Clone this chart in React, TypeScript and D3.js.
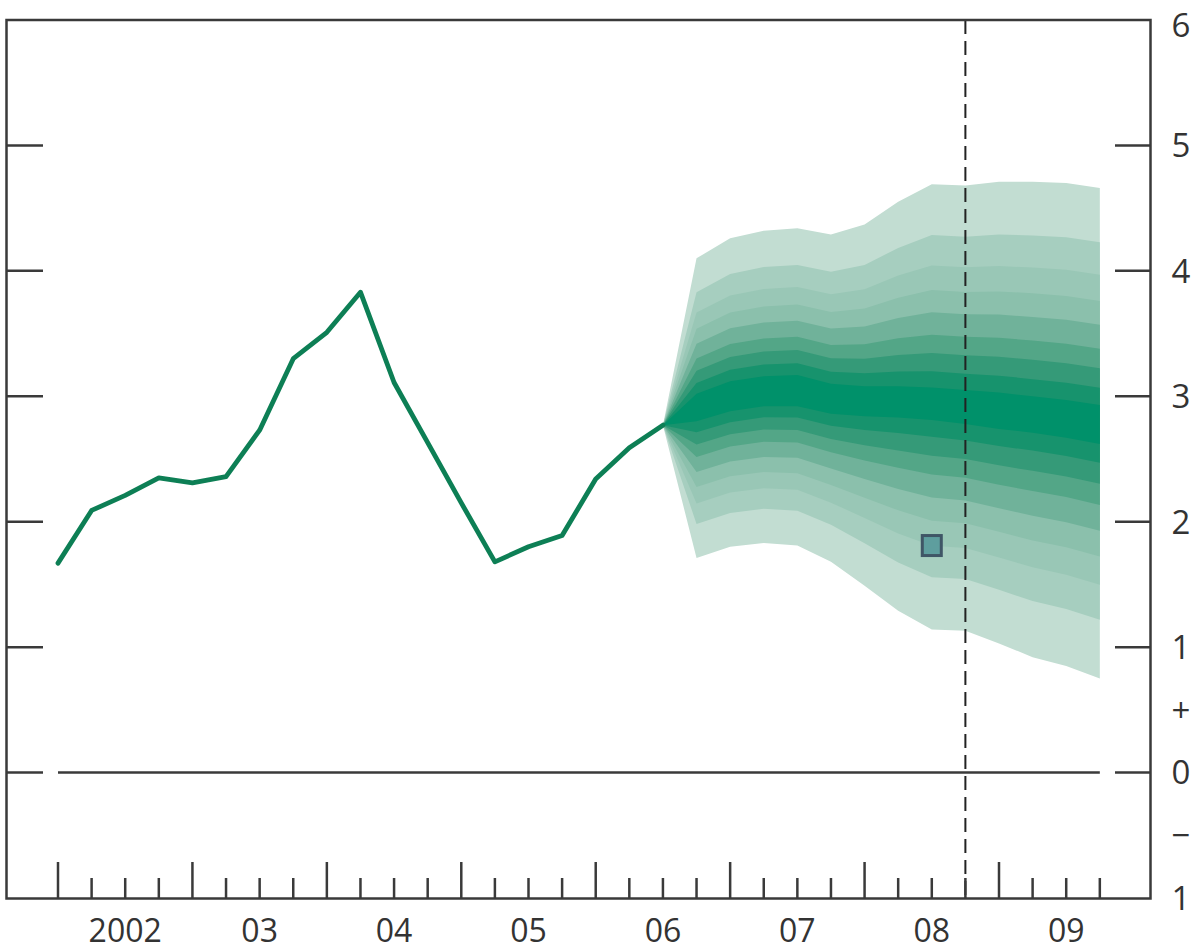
import React from 'react';
import * as d3 from 'd3';

// ---------- data ----------
const yearLabels = ['2002', '03', '04', '05', '06', '07', '08', '09'];
const firstYear = 2002;
const quarterCount = 32; // 2002 Q1 .. 2009 Q4 tick marks

// historical CPI inflation (quarterly, from 2002 Q1)
const histValues = [1.67, 2.09, 2.21, 2.35, 2.31, 2.36, 2.73, 3.30, 3.51, 3.83, 3.11, 2.63, 2.15, 1.68, 1.80, 1.89, 2.34, 2.59, 2.77];

// projection fan (quarterly, from 2006 Q3)
const fanStartQuarter = 18;
const fanOuterUpper = [2.77, 4.10, 4.26, 4.32, 4.34, 4.29, 4.37, 4.55, 4.69, 4.68, 4.71, 4.71, 4.70, 4.66];
const fanOuterLower = [2.77, 1.71, 1.80, 1.83, 1.81, 1.68, 1.49, 1.29, 1.14, 1.13, 1.03, 0.92, 0.85, 0.75];
const fanCentreUpper = [2.77, 3.02, 3.12, 3.16, 3.17, 3.10, 3.08, 3.08, 3.07, 3.05, 3.03, 3.00, 2.97, 2.93];
const fanCentreLower = [2.77, 2.80, 2.88, 2.92, 2.92, 2.86, 2.84, 2.83, 2.81, 2.78, 2.74, 2.71, 2.67, 2.62];
// relative position of each band edge between the central band and the outer edge
const bandEdges = [0.08, 0.17, 0.26, 0.37, 0.48, 0.60, 0.75, 1.0];
// colours: central band first, then outward
const bandColours = ['#00916a', '#17936d', '#359a78', '#53a687', '#70b29a', '#8bc0ac', '#99c7b6', '#a6cebf', '#c2ddd2'];

// marker (square)
const markerTime = 2008.5;
const markerValue = 1.81;
// dashed vertical line (two years ahead)
const dashedTime = 2008.75;

const yTickValues = [0, 1, 2, 3, 4, 5];
const rightLabels = ['6', '5', '4', '3', '2', '1', '+', '0', '\u2212', '1'];
const rightLabelValues = [6, 5, 4, 3, 2, 1, 0.5, 0, -0.5, -1];

// ---------- layout ----------
const W = 1197;
const H = 952;
const frame = { left: 6.5, right: 1150.5, top: 20, bottom: 898.5 };

export default function App() {
  const x = d3.scaleLinear().domain([2002, 2009]).range([58, 999]);
  const y = d3.scaleLinear().domain([-1, 6]).range([898, 20]);
  const tq = (k: number) => firstYear + k / 4;

  const histLine = d3
    .line<number>()
    .x((_, i) => x(tq(i)))
    .y((d) => y(d))(histValues) as string;

  const fanIdx = fanOuterUpper.map((_, i) => i);
  const bands = bandEdges
    .map((f, bi) => {
      const area = d3
        .area<number>()
        .x((i) => x(tq(fanStartQuarter + i)))
        .y0((i) => y(fanCentreLower[i] - f * (fanCentreLower[i] - fanOuterLower[i])))
        .y1((i) => y(fanCentreUpper[i] + f * (fanOuterUpper[i] - fanCentreUpper[i])))(fanIdx) as string;
      return { d: area, colour: bandColours[bi + 1] };
    })
    .reverse();
  const centre = d3
    .area<number>()
    .x((i) => x(tq(fanStartQuarter + i)))
    .y0((i) => y(fanCentreLower[i]))
    .y1((i) => y(fanCentreUpper[i]))(fanIdx) as string;

  const quarterTicks = d3.range(quarterCount);
  const font = '"Open Sans", "Noto Sans", sans-serif';
  const ink = '#3a3a3a';

  return (
    <svg
      width={W}
      height={H}
      style={{ position: 'absolute', left: 0, top: 0, display: 'block', background: '#fff' }}
    >
      {/* fan */}
      {bands.map((b, i) => (
        <path key={i} d={b.d} fill={b.colour} stroke="none" />
      ))}
      <path d={centre} fill={bandColours[0]} stroke="none" />

      {/* zero line */}
      <line x1={x(tq(0))} x2={x(tq(quarterCount - 1))} y1={y(0)} y2={y(0)} stroke={ink} strokeWidth={2.5} />

      {/* historical line */}
      <path d={histLine} fill="none" stroke="#0d7f55" strokeWidth={4.8} strokeLinejoin="round" strokeLinecap="round" />

      {/* marker */}
      <rect
        x={x(markerTime) - 9.5}
        y={y(markerValue) - 10}
        width={19}
        height={20}
        fill="#5e9e9e"
        stroke="#3f5666"
        strokeWidth={3}
      />

      {/* dashed line */}
      <line
        x1={x(dashedTime)}
        x2={x(dashedTime)}
        y1={frame.top}
        y2={frame.bottom}
        stroke="#222"
        strokeWidth={2}
        strokeDasharray="14,7"
      />

      {/* y ticks inside frame */}
      {yTickValues.map((v) => (
        <g key={v}>
          <line x1={frame.left} x2={43} y1={y(v)} y2={y(v)} stroke={ink} strokeWidth={2.5} />
          <line x1={1115} x2={frame.right} y1={y(v)} y2={y(v)} stroke={ink} strokeWidth={2.5} />
        </g>
      ))}

      {/* x ticks */}
      {quarterTicks.map((k) => (
        <line
          key={k}
          x1={x(tq(k))}
          x2={x(tq(k))}
          y1={frame.bottom}
          y2={k % 4 === 0 ? 862 : 878}
          stroke={ink}
          strokeWidth={2.5}
        />
      ))}

      {/* frame */}
      <rect
        x={frame.left}
        y={frame.top}
        width={frame.right - frame.left}
        height={frame.bottom - frame.top}
        fill="none"
        stroke={ink}
        strokeWidth={2.5}
      />

      {/* year labels */}
      {yearLabels.map((lab, i) => (
        <text
          key={lab}
          x={x(firstYear + i + 0.5)}
          y={942}
          textAnchor="middle"
          fontFamily={font}
          fontSize={32}
          fill="#333"
        >
          {lab}
        </text>
      ))}

      {/* right-hand labels */}
      {rightLabels.map((lab, i) => (
        <text
          key={i}
          x={1181}
          y={y(rightLabelValues[i])}
          dy={i === 0 ? '0.5em' : '0.36em'}
          textAnchor="middle"
          fontFamily={font}
          fontSize={33}
          fill="#333"
        >
          {lab}
        </text>
      ))}
    </svg>
  );
}
